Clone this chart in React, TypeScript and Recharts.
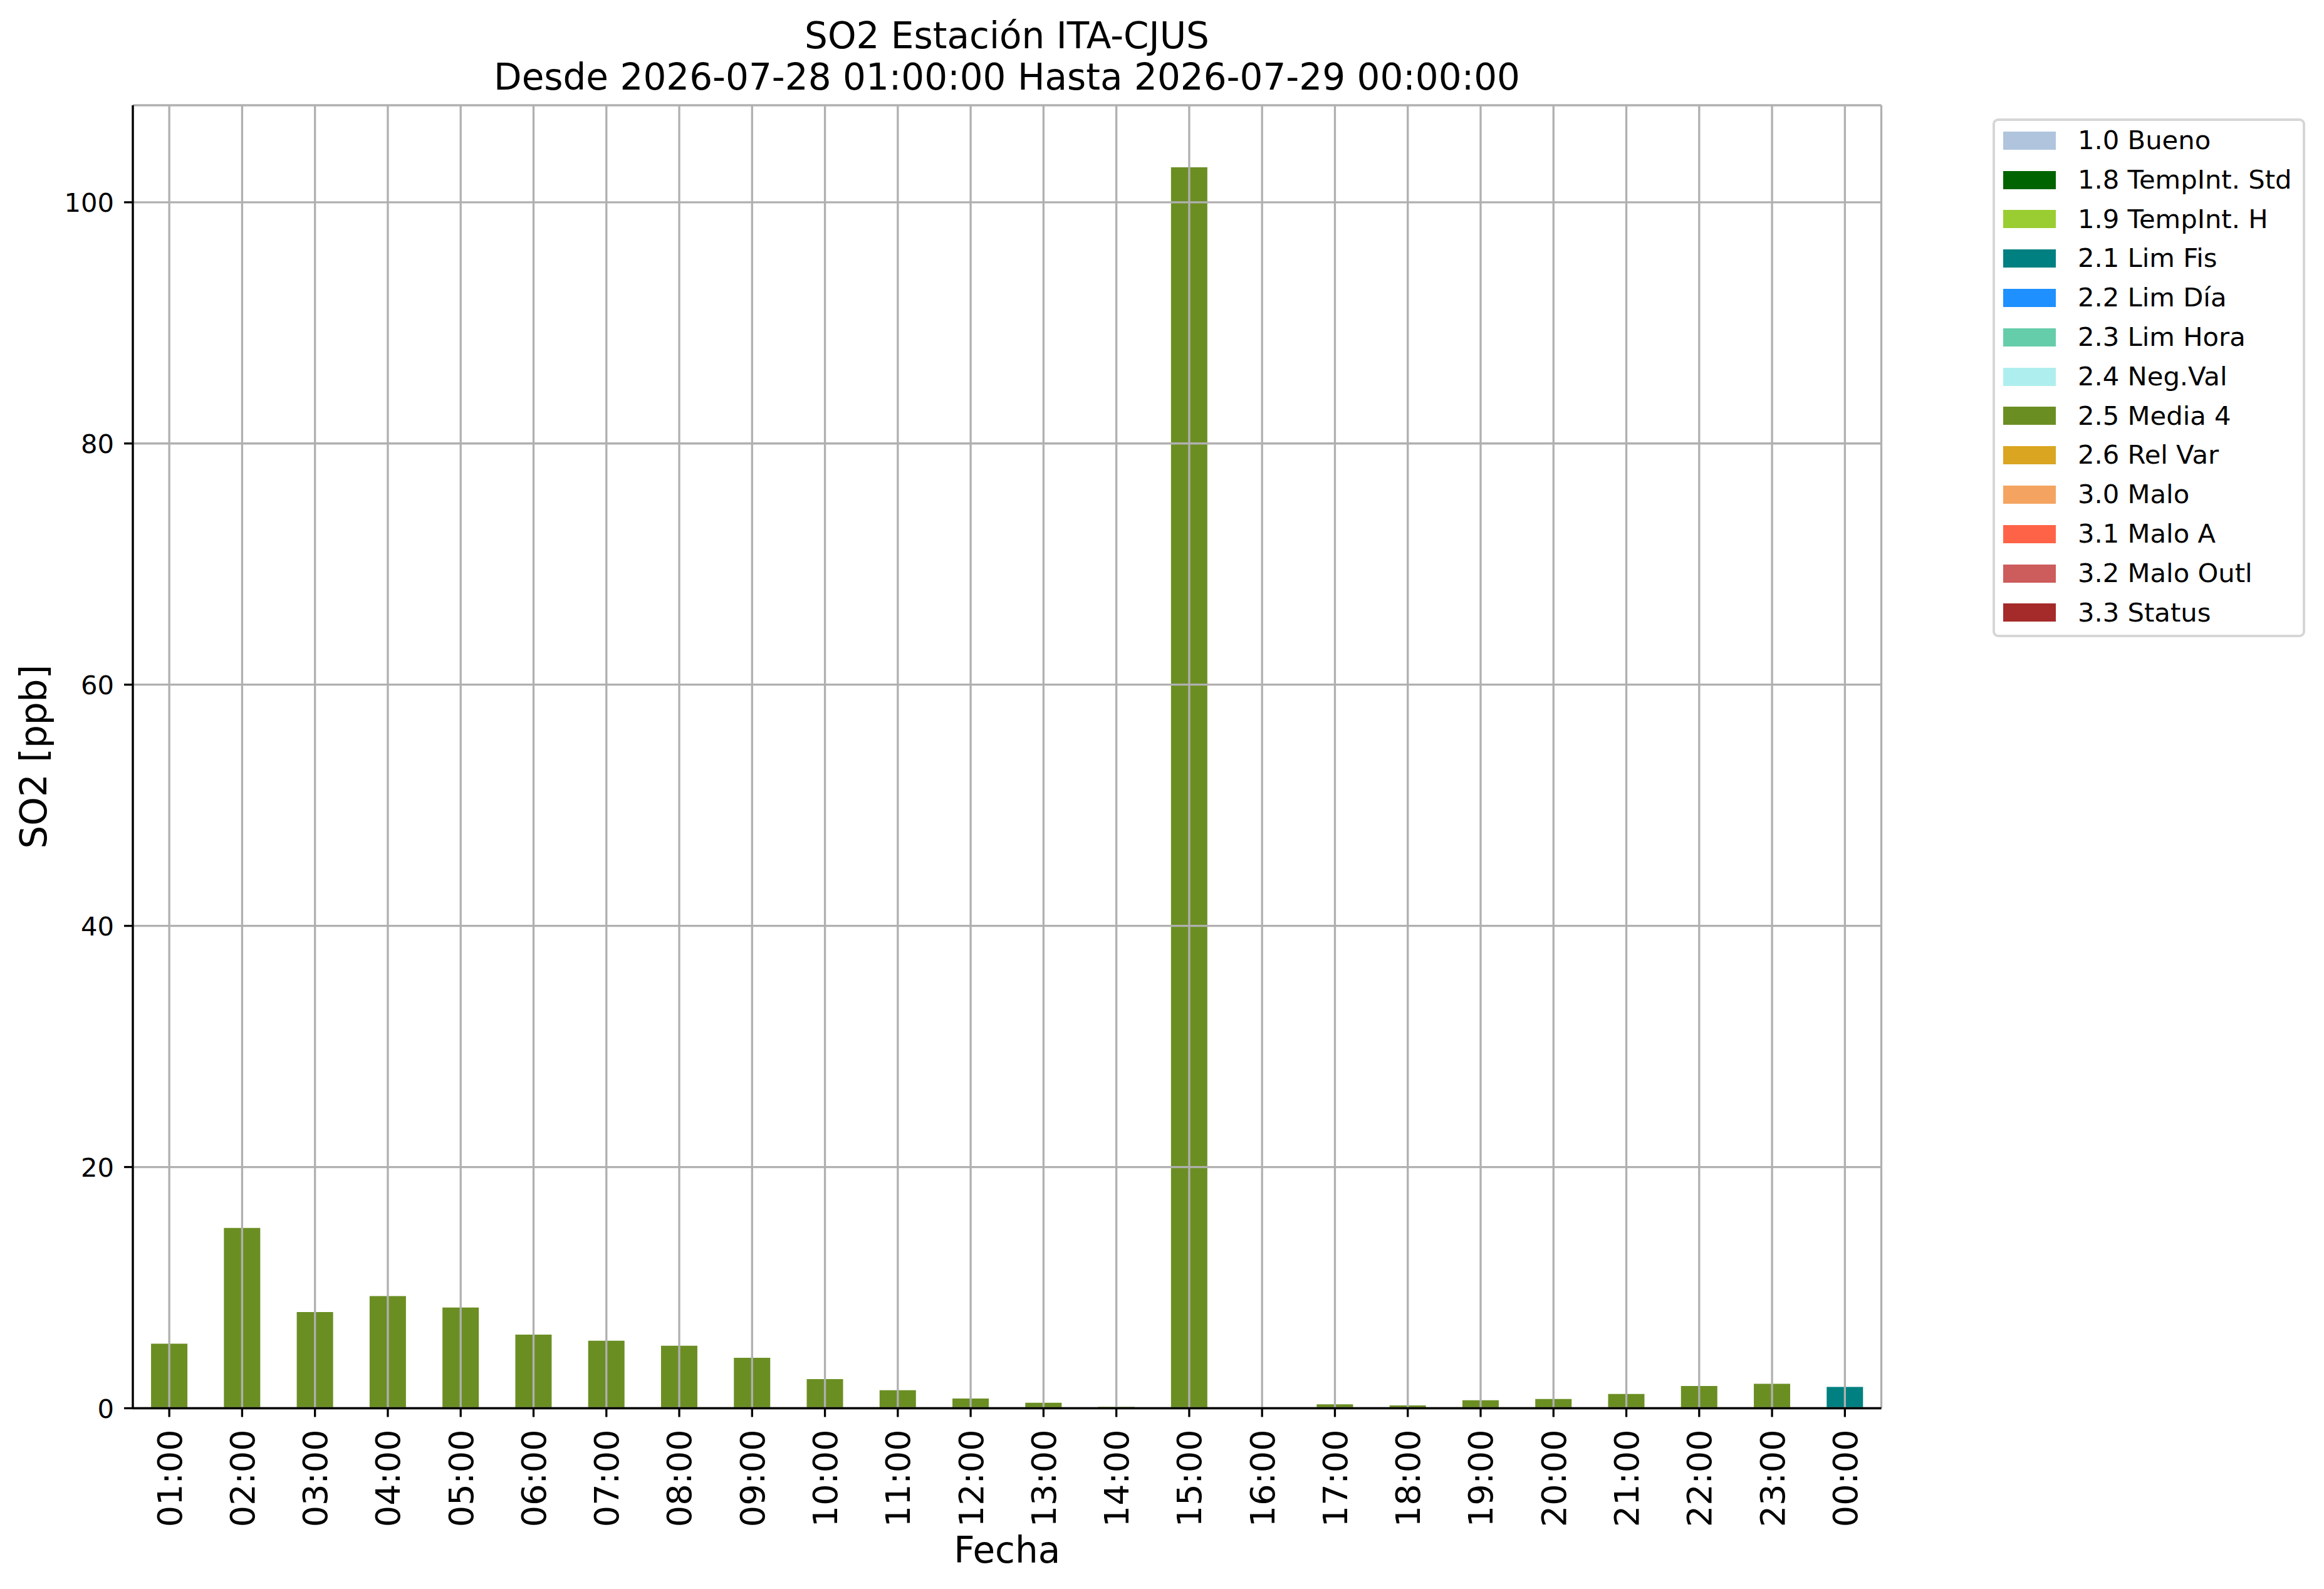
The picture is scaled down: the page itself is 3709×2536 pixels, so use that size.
import React from 'react';
import { BarChart, Bar, XAxis, YAxis, CartesianGrid, Legend, Label } from 'recharts';

const hours = ['01:00','02:00','03:00','04:00','05:00','06:00','07:00','08:00','09:00','10:00','11:00','12:00','13:00','14:00','15:00','16:00','17:00','18:00','19:00','20:00','21:00','22:00','23:00','00:00'];

const media4 = [5.35, 14.95, 7.97, 9.3, 8.35, 6.1, 5.6, 5.18, 4.18, 2.42, 1.5, 0.8, 0.45, 0.12, 102.9, 0, 0.33, 0.24, 0.66, 0.76, 1.18, 1.85, 2.02, 0];
const limFis = [0, 0, 0, 0, 0, 0, 0, 0, 0, 0, 0, 0, 0, 0, 0, 0, 0, 0, 0, 0, 0, 0, 0, 1.77];

const flagKeys = ['f10','f18','f19','f21','f22','f23','f24','f25','f26','f30','f31','f32','f33'];
const flagLabels = ['1.0 Bueno','1.8 TempInt. Std','1.9 TempInt. H','2.1 Lim Fis','2.2 Lim Día','2.3 Lim Hora','2.4 Neg.Val','2.5 Media 4','2.6 Rel Var','3.0 Malo','3.1 Malo A','3.2 Malo Outl','3.3 Status'];
const flagColors = ['#B0C4DE','#006400','#9ACD32','#008080','#1E90FF','#66CDAA','#AFEEEE','#6B8E23','#DAA520','#F4A460','#FF6347','#CD5C5C','#A52A2A'];
const flagValues: Record<string, number[]> = { f21: limFis, f25: media4 };

const yTicks = [0, 20, 40, 60, 80, 100];

const data = hours.map((hour, i) => {
  const row: Record<string, any> = { hour };
  flagKeys.forEach((k) => {
    row[k] = flagValues[k] ? flagValues[k][i] : 0;
  });
  return row;
});

const totals = data.map((r) => flagKeys.reduce((s, k) => s + (r[k] || 0), 0));
const yMax = Math.max(...totals) * 1.05;

const FONT = '"DejaVu Sans", sans-serif';
const LW = 3.3;

const XTick = (props: any) => {
  const { x, y, payload } = props;
  return (
    <text x={x} y={y} transform={`rotate(-90, ${x}, ${y})`} textAnchor="end" dy="0.36em" fontSize={54} fill="#000" fontFamily={FONT}>
      {payload.value}
    </text>
  );
};

const YTick = (props: any) => {
  const { x, y, payload } = props;
  return (
    <text x={x} y={y} textAnchor="end" dy="0.36em" fontSize={41.7} fill="#000" fontFamily={FONT}>
      {payload.value}
    </text>
  );
};

const LegendBox = (props: any) => {
  const payload = (props.payload || []).slice().sort(
    (a: any, b: any) => flagLabels.indexOf(a.value) - flagLabels.indexOf(b.value)
  );
  return (
    <div
      style={{
        boxSizing: 'border-box',
        width: 499,
        height: 828,
        border: '4px solid #d6d6d6',
        borderRadius: 9,
        background: '#fff',
        fontFamily: FONT,
        fontSize: 41.7,
        paddingTop: 0,
      }}
    >
      {payload.map((e: any) => (
        <div key={e.value} style={{ display: 'flex', alignItems: 'center', height: 62.8, lineHeight: '62.8px' }}>
          <div style={{ width: 84, height: 29, background: e.color, marginLeft: 13, flex: 'none' }} />
          <span style={{ marginLeft: 35, color: '#000', whiteSpace: 'nowrap' }}>{e.value}</span>
        </div>
      ))}
    </div>
  );
};

export default function App() {
  return (
    <div style={{ position: 'absolute', left: 0, top: 0, width: 3709, height: 2536, background: '#fff', fontFamily: FONT }}>
      <svg width={3709} height={200} style={{ position: 'absolute', left: 0, top: 0 }}>
        <text x={1607} y={77} textAnchor="middle" fontSize={58} fontFamily={FONT} fill="#000">SO2 Estación ITA-CJUS</text>
        <text x={1607} y={143} textAnchor="middle" fontSize={58} fontFamily={FONT} fill="#000">Desde 2026-07-28 01:00:00 Hasta 2026-07-29 00:00:00</text>
      </svg>
      <div style={{ position: 'absolute', left: 0, top: 0 }}>
        <BarChart
          width={3709}
          height={2536}
          data={data}
          margin={{ top: 168, right: 706.5, bottom: 0, left: 0 }}
          barCategoryGap="25%"
        >
          <XAxis
            dataKey="hour"
            height={288.5}
            interval={0}
            tickSize={14}
            tickMargin={20}
            tick={<XTick />}
            axisLine={{ stroke: '#000', strokeWidth: LW }}
            tickLine={{ stroke: '#000', strokeWidth: LW }}
          >
            <Label
              content={(p: any) => {
                const vb = p.viewBox || {};
                return (
                  <text x={vb.x + vb.width / 2} y={vb.y + 246} textAnchor="middle" fontSize={58} fontFamily={FONT} fill="#000">
                    Fecha
                  </text>
                );
              }}
            />
          </XAxis>
          <XAxis xAxisId="top" orientation="top" dataKey="hour" height={0} tick={false} tickLine={false} axisLine={{ stroke: '#000', strokeWidth: LW }} />
          <YAxis
            width={212}
            domain={[0, yMax]}
            ticks={yTicks}
            tickSize={14}
            tickMargin={16}
            tick={<YTick />}
            axisLine={{ stroke: '#000', strokeWidth: LW }}
            tickLine={{ stroke: '#000', strokeWidth: LW }}
          >
            <Label
              content={(p: any) => {
                const vb = p.viewBox || {};
                const cx = vb.x + 74;
                const cy = vb.y + vb.height / 2;
                return (
                  <text x={cx} y={cy} transform={`rotate(-90, ${cx}, ${cy})`} textAnchor="middle" fontSize={58} fontFamily={FONT} fill="#000">
                    SO2 [ppb]
                  </text>
                );
              }}
            />
          </YAxis>
          <YAxis yAxisId="right" orientation="right" width={0} tick={false} tickLine={false} axisLine={{ stroke: '#000', strokeWidth: LW }} />
          {flagKeys.map((k, i) => (
            <Bar key={k} dataKey={k} name={flagLabels[i]} stackId="s" fill={flagColors[i]} isAnimationActive={false} />
          ))}
          <CartesianGrid stroke="#b0b0b0" strokeWidth={LW} zIndex={350} />
          <Legend
            layout="vertical"
            align="center"
            verticalAlign="middle"
            wrapperStyle={{ left: 3180, top: 189, width: 499 }}
            content={<LegendBox />}
          />
        </BarChart>
      </div>
    </div>
  );
}
